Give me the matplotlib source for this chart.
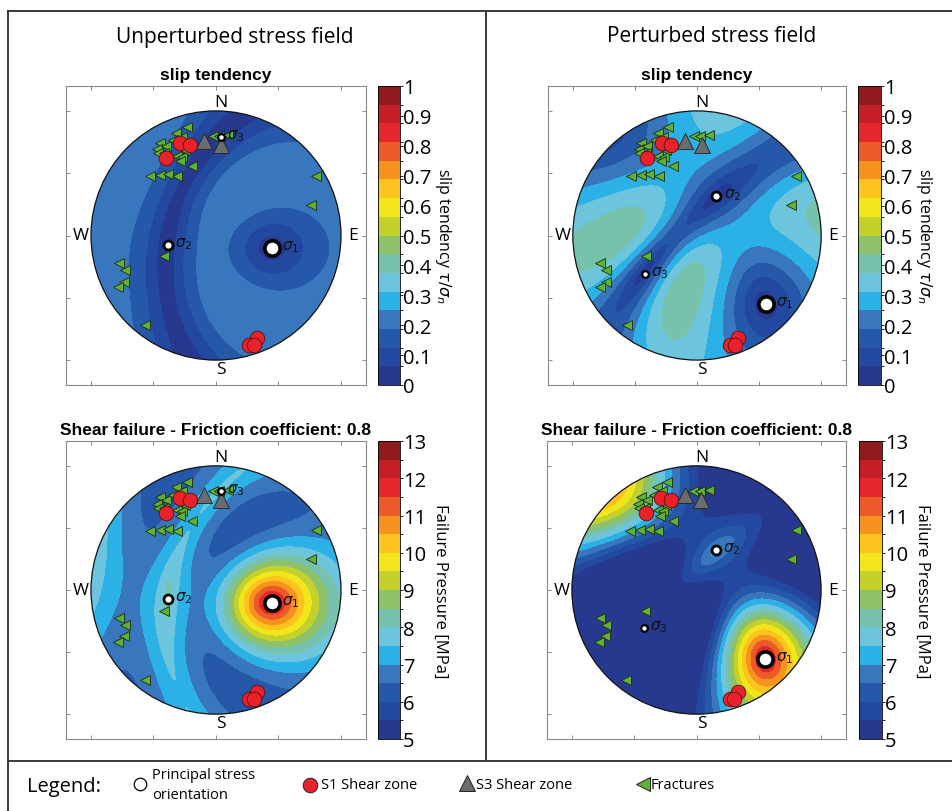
import numpy as np
import matplotlib
matplotlib.use('Agg')
import matplotlib.pyplot as plt
from matplotlib.colors import ListedColormap, BoundaryNorm
from matplotlib.cm import ScalarMappable
from matplotlib.patches import Circle

# principal stress axes: trend / plunge in degrees, effective magnitude in MPa (s1, s2, s3)
unpert_trend = [103, 259, 3]
unpert_plunge = [41, 47, 13]
unpert_mag = [12.5, 8.2, 7.65]

pert_trend = [135, 26, 234]
pert_plunge = [14, 51, 35]
pert_mag = [12.4, 7.2, 5.5]

friction = 0.8

# poles to planes, trend / plunge in degrees
s1_trend = [339, 344, 327, 158, 163, 161]
s1_plunge = [13, 16, 17, 7, 5, 4]

s3_trend = [353, 3]
s3_plunge = [15, 18]

frac_trend = [345, 339, 341, 329, 326, 331, 336, 325, 328, 334, 337, 340, 334, 341,
              312, 317, 322, 327, 358, 2, 7, 59, 72, 254, 249, 243, 242, 248, 218]
frac_plunge = [6, 7, 10, 8, 10, 11, 10, 12, 14, 19, 21, 18, 23, 29,
               19, 23, 26, 31, 13, 13, 12, 4, 13, 12, 14, 11, 7, 42, 5]

band_colors = ['#27398f', '#22489f', '#2558a9', '#3877bd', '#2cb1e6', '#6cc5dc',
               '#77c2ad', '#8dc26a', '#c4d12c', '#f1e61c', '#fcc41d', '#f6931f',
               '#ec5a29', '#e5262b', '#c41f26', '#911a1c']

slip_levels = np.linspace(0, 1, 17)
slip_ticks = [0, 0.1, 0.2, 0.3, 0.4, 0.5, 0.6, 0.7, 0.8, 0.9, 1]
slip_ticklabels = ['0', '0.1', '0.2', '0.3', '0.4', '0.5', '0.6', '0.7', '0.8', '0.9', '1']

press_levels = np.linspace(5, 13, 17)
press_ticks = [5, 6, 7, 8, 9, 10, 11, 12, 13]
press_ticklabels = ['5', '6', '7', '8', '9', '10', '11', '12', '13']

sigma_names = [r'$\sigma_1$', r'$\sigma_2$', r'$\sigma_3$']


def stereo(trend, plunge):
    # lower hemisphere, equal angle
    t = np.radians(np.asarray(trend, float))
    r = np.tan(np.radians(90 - np.asarray(plunge, float)) / 2)
    return r * np.sin(t), r * np.cos(t)


def axis_vec(trend, plunge):
    t, p = np.radians(trend), np.radians(plunge)
    return np.array([np.cos(p) * np.cos(t), np.cos(p) * np.sin(t), np.sin(p)])


g = np.linspace(-1.06, 1.06, 425)
gx, gy = np.meshgrid(g, g)
th = 2 * np.arctan(np.hypot(gx, gy))
az = np.arctan2(gx, gy)
normals = np.stack([np.sin(th) * np.cos(az), np.sin(th) * np.sin(az), np.cos(th)], axis=-1)


def stress_fields(trend, plunge, mag):
    v1 = axis_vec(trend[0], plunge[0])
    v2 = axis_vec(trend[1], plunge[1])
    v2 = v2 - v2.dot(v1) * v1
    v2 /= np.linalg.norm(v2)
    v3 = np.cross(v1, v2)
    S = mag[0] * np.outer(v1, v1) + mag[1] * np.outer(v2, v2) + mag[2] * np.outer(v3, v3)
    trac = normals @ S
    sn = (trac * normals).sum(-1)
    tau = np.sqrt(np.clip((trac ** 2).sum(-1) - sn ** 2, 0, None))
    return tau / sn, sn - tau / friction


W, H = 952, 812


def box(l, t, w, h):
    return [l / W, 1 - (t + h) / H, w / W, h / H]


cmap = ListedColormap(band_colors)
cmap.set_under(band_colors[0])
cmap.set_over(band_colors[-1])

plt.rcParams['font.family'] = ['Open Sans', 'DejaVu Sans']
fig = plt.figure(figsize=(W / 100, H / 100), dpi=100)

unpert_slip, unpert_press = stress_fields(unpert_trend, unpert_plunge, unpert_mag)
pert_slip, pert_press = stress_fields(pert_trend, pert_plunge, pert_mag)

panels = [
    (box(66, 87, 300, 299), box(378, 87, 22, 299), unpert_slip, 'slip', unpert_trend, unpert_plunge),
    (box(548, 87, 298, 299), box(858, 87, 23, 299), pert_slip, 'slip', pert_trend, pert_plunge),
    (box(66, 442, 300, 298), box(378, 442, 22, 298), unpert_press, 'press', unpert_trend, unpert_plunge),
    (box(547, 442, 299, 298), box(859, 442, 23, 298), pert_press, 'press', pert_trend, pert_plunge),
]

for rect, crect, field, kind, ptr, ppl in panels:
    ax = fig.add_axes(rect)
    levels = slip_levels if kind == 'slip' else press_levels
    norm = BoundaryNorm(levels, cmap.N)
    cs = ax.contourf(gx, gy, field, levels=levels, cmap=cmap, norm=norm, extend='both')
    clip = Circle((0, 0), 1, transform=ax.transData)
    cs.set_clip_path(clip)
    ax.add_patch(Circle((0, 0), 1, fill=False, ec='#111111', lw=0.9, zorder=3))

    fx, fy = stereo(frac_trend, frac_plunge)
    ax.plot(fx, fy, '<', ms=7.5, mfc='#5fb233', mec='#1d2a10', mew=0.6, ls='none', zorder=4)
    rx, ry = stereo(s1_trend, s1_plunge)
    ax.plot(rx, ry, 'o', ms=10.5, mfc='#e8212b', mec='#5a1010', mew=0.6, ls='none', zorder=5)
    tx, ty = stereo(s3_trend, s3_plunge)
    ax.plot(tx, ty, '^', ms=12, mfc='#6b6c6e', mec='#222222', mew=0.6, ls='none', zorder=6)

    px, py = stereo(ptr, ppl)
    for i, (msz, mw, off) in enumerate([(11, 2.6, 0.085), (6.5, 2.0, 0.06), (4.8, 1.6, 0.05)]):
        ax.plot(px[i], py[i], 'o', ms=msz, mfc='white', mec='black', mew=mw, zorder=7)
        ax.text(px[i] + off, py[i] + 0.015, sigma_names[i], fontsize=11, va='center',
                ha='left', color='#111111', zorder=8)

    ax.text(0.04, 1.07, 'N', ha='center', va='center', fontsize=12.5)
    ax.text(0.04, -1.07, 'S', ha='center', va='center', fontsize=12.5)
    ax.text(-1.08, 0, 'W', ha='center', va='center', fontsize=12.5)
    ax.text(1.1, 0, 'E', ha='center', va='center', fontsize=12.5)

    ax.set_xlim(-1.2, 1.2)
    ax.set_ylim(-1.2, 1.2)
    ax.set_xticks([-1, -0.5, 0, 0.5, 1])
    ax.set_yticks([-1, -0.5, 0, 0.5, 1])
    ax.tick_params(direction='in', top=True, right=True, length=3, width=0.6,
                   color='#777777', labelbottom=False, labelleft=False)
    for sp in ax.spines.values():
        sp.set_color('#8a8a8a')
        sp.set_linewidth(0.8)

    if kind == 'slip':
        ttl = 'slip tendency'
    else:
        ttl = 'Shear failure - Friction coefficient: 0.8'
    ax.set_title(ttl, fontsize=12.5, fontweight='bold', family='Liberation Sans', pad=5)

    cax = fig.add_axes(crect)
    cb = fig.colorbar(ScalarMappable(norm=norm, cmap=cmap), cax=cax)
    if kind == 'slip':
        cb.set_ticks(slip_ticks, labels=slip_ticklabels)
        cb.set_label(r'slip tendency $\tau/\sigma_n$', rotation=270, fontsize=11.5, labelpad=16)
    else:
        cb.set_ticks(press_ticks, labels=press_ticklabels)
        cb.set_label('Failure Pressure [MPa]', rotation=270, fontsize=12, labelpad=16)
    cb.ax.tick_params(labelsize=14.5, length=2, width=0.6, pad=0)
    cb.outline.set_linewidth(0.6)

fig.text(235 / W, 1 - 37 / H, 'Unperturbed stress field', ha='center', va='center', fontsize=15)
fig.text(712 / W, 1 - 37 / H, 'Perturbed stress field', ha='center', va='center', fontsize=15)

# frame and legend row
lax = fig.add_axes([0, 0, 1, 1], zorder=-1)
lax.set_xlim(0, W)
lax.set_ylim(H, 0)
lax.axis('off')
fc = '#3a3a3a'
lax.plot([8, 8], [12, H], color=fc, lw=1.4)
lax.plot([8, W], [12, 12], color=fc, lw=1.4)
lax.plot([486, 486], [12, 762], color=fc, lw=1.4)
lax.plot([8, W], [762, 762], color=fc, lw=1.4)

lax.text(27, 787, 'Legend:', fontsize=14.5, va='center', ha='left')
lax.plot(140, 785, 'o', ms=9, mfc='white', mec='black', mew=0.9)
lax.text(152, 776, 'Principal stress', fontsize=10.5, va='center', ha='left')
lax.text(152, 796, 'orientation', fontsize=10.5, va='center', ha='left')
lax.plot(310, 786, 'o', ms=10.5, mfc='#e8212b', mec='#222222', mew=0.7)
lax.text(321, 786, 'S1 Shear zone', fontsize=10.5, va='center', ha='left')
lax.plot(467, 784, '^', ms=12, mfc='#6b6c6e', mec='#222222', mew=0.7)
lax.text(476, 786, 'S3 Shear zone', fontsize=10.5, va='center', ha='left')
lax.plot(643, 785, '<', ms=10, mfc='#5fb233', mec='#222222', mew=0.7)
lax.text(651, 786, 'Fractures', fontsize=10.5, va='center', ha='left')

fig.savefig('out.png', dpi=100)
